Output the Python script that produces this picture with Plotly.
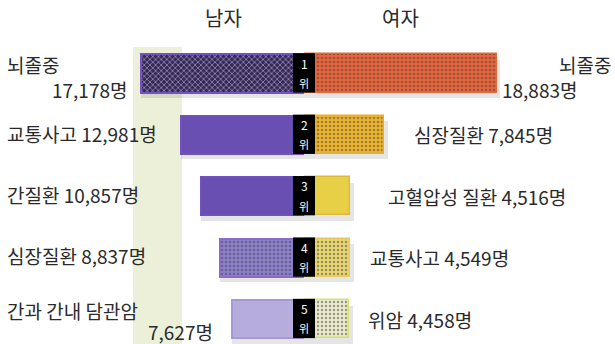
import plotly.graph_objects as go

# ---- data ----
ranks = [1, 2, 3, 4, 5]
rank_numbers = ["1", "2", "3", "4", "5"]
rank_suffix = "위"
male_causes = ["뇌졸중", "교통사고", "간질환", "심장질환", "간과 간내 담관암"]
male_deaths = [17178, 12981, 10857, 8837, 7627]
female_causes = ["뇌졸중", "심장질환", "고혈압성 질환", "교통사고", "위암"]
female_deaths = [18883, 7845, 4516, 4549, 4458]
header_labels = ["남자", "여자"]

# ---- styles ----
W, H = 615, 344
FONT = "Noto Sans CJK KR"
TXT = "#2a2a2a"
male_colors = ["#35275a", "#6a4fb2", "#6a4fb2", "#8c80cc", "#b6addd"]
male_pat_shape = ["x", "", "", ".", ""]
male_pat_fg = ["#1e1630", "#6a4fb2", "#6a4fb2", "#b4aae4", "#b6addd"]
male_pat_sol = [0.35, 0.3, 0.3, 0.35, 0.3]
male_line = ["#7352c8", "#7050bc", "#7050bc", "#8a6cc8", "#a898d8"]
female_colors = ["#e8643a", "#ecb42c", "#e8d046", "#e8d670", "#ecebcc"]
female_pat_shape = [".", ".", "", ".", "."]
female_pat_fg = ["#f08c44", "#e89a22", "#e8d046", "#e2c452", "#dadcc0"]
female_pat_sol = [0.35, 0.35, 0.3, 0.3, 0.3]
female_line = ["#e06a3a", "#e8b030", "#e0b840", "#e8c860", "#d8e070"]

center_px = 304
male_scale = 0.0095   # px per person
female_scale = 0.0102
ytop = -0.197
yspan = 344 / 61.4
bar_w = 0.62

fig = go.Figure()

# soft shadows
fig.add_trace(go.Bar(y=[r + 0.09 for r in ranks], x=male_deaths, orientation="h",
                     width=bar_w, marker=dict(color="rgba(0,0,0,0.10)", line=dict(width=0)),
                     xaxis="x", yaxis="y", hoverinfo="skip", showlegend=False))
fig.add_trace(go.Bar(y=[r + 0.09 for r in ranks], x=[v + 350 for v in female_deaths], orientation="h",
                     width=bar_w, marker=dict(color="rgba(0,0,0,0.10)", line=dict(width=0)),
                     xaxis="x2", yaxis="y", hoverinfo="skip", showlegend=False))

# male bars
fig.add_trace(go.Bar(
    y=ranks, x=male_deaths, orientation="h", width=bar_w,
    marker=dict(color=male_colors, line=dict(color=male_line, width=2),
                pattern=dict(shape=male_pat_shape, fgcolor=male_pat_fg, fillmode="overlay",
                             size=4, solidity=male_pat_sol)),
    xaxis="x", yaxis="y", showlegend=False, name="남자"))
# female bars
fig.add_trace(go.Bar(
    y=ranks, x=female_deaths, orientation="h", width=bar_w,
    marker=dict(color=female_colors, line=dict(color=female_line, width=1.5),
                pattern=dict(shape=female_pat_shape, fgcolor=female_pat_fg, fillmode="overlay",
                             size=4, solidity=female_pat_sol)),
    xaxis="x2", yaxis="y", showlegend=False, name="여자"))

shapes = []
# pale green strip in background
shapes.append(dict(type="rect", xref="paper", yref="paper", x0=133 / W, x1=182 / W,
                   y0=0, y1=1 - 47 / H, fillcolor="#edf0d9", line=dict(width=0), layer="below"))
# rank boxes
for r in ranks:
    shapes.append(dict(type="rect", xref="paper", yref="y", x0=293 / W, x1=315 / W,
                       y0=r - 0.33, y1=r + 0.31, fillcolor="#000000", line=dict(width=0)))

ann = []
for r, num in zip(ranks, rank_numbers):
    ann.append(dict(xref="paper", yref="y", x=304 / W, y=r - 0.17, text=num, showarrow=False,
                    xanchor="center", yanchor="middle",
                    font=dict(family=FONT, size=12, color="white")))
    ann.append(dict(xref="paper", yref="y", x=304 / W, y=r + 0.15, text=rank_suffix, showarrow=False,
                    xanchor="center", yanchor="middle",
                    font=dict(family=FONT, size=11, color="white")))

# headers
for lab, xp in zip(header_labels, [223, 401]):
    ann.append(dict(xref="paper", yref="paper", x=xp / W, y=1 - 18 / H, text=lab,
                    xanchor="center", yanchor="middle",
                    showarrow=False, font=dict(family=FONT, size=20, color=TXT)))

fs = 19
def fmt(v):
    return f"{v:,}명"

# left labels
for i, (r, name, v) in enumerate(zip(ranks, male_causes, male_deaths)):
    if i in (0, 4):
        ann.append(dict(xref="paper", yref="y", x=5 / W, y=r - 0.14, text=name,
                        xanchor="left", yanchor="middle",
                        showarrow=False, font=dict(family=FONT, size=fs, color=TXT)))
        xr = 130 if i == 0 else 215
        dy = 0.26 if i == 0 else 0.2
        ann.append(dict(xref="paper", yref="y", x=xr / W, y=r + dy, text=fmt(v),
                        xanchor="right", yanchor="middle",
                        showarrow=False, font=dict(family=FONT, size=fs, color=TXT)))
    else:
        ann.append(dict(xref="paper", yref="y", x=5 / W, y=r - 0.03, text=f"{name} {fmt(v)}",
                        xanchor="left", yanchor="middle",
                        showarrow=False, font=dict(family=FONT, size=fs, color=TXT)))

# right labels
right_x = [None, 412, 386, 368, 366]
for i, (r, name, v) in enumerate(zip(ranks, female_causes, female_deaths)):
    if i == 0:
        ann.append(dict(xref="paper", yref="y", x=613 / W, y=r - 0.14, text=name,
                        xanchor="right", yanchor="middle",
                        showarrow=False, font=dict(family=FONT, size=fs, color=TXT)))
        ann.append(dict(xref="paper", yref="y", x=500 / W, y=r + 0.26, text=fmt(v),
                        xanchor="left", yanchor="middle",
                        showarrow=False, font=dict(family=FONT, size=fs, color=TXT)))
    else:
        ann.append(dict(xref="paper", yref="y", x=right_x[i] / W, y=r, text=f"{name} {fmt(v)}",
                        xanchor="left", yanchor="middle",
                        showarrow=False, font=dict(family=FONT, size=fs, color=TXT)))

fig.update_layout(
    width=W, height=H, margin=dict(l=0, r=0, t=0, b=0),
    paper_bgcolor="white", plot_bgcolor="rgba(0,0,0,0)",
    barmode="overlay", bargap=0,
    xaxis=dict(domain=[0, center_px / W], range=[center_px / male_scale, 0],
               visible=False, fixedrange=True),
    xaxis2=dict(domain=[center_px / W, 1], range=[0, (W - center_px) / female_scale],
                visible=False, fixedrange=True),
    yaxis=dict(range=[ytop + yspan, ytop], visible=False, fixedrange=True),
    shapes=shapes, annotations=ann,
    font=dict(family=FONT, color=TXT),
)

fig.write_html("out.html", config={"displayModeBar": False},
               post_script="document.body.style.margin='0';document.body.style.overflow='hidden';")
